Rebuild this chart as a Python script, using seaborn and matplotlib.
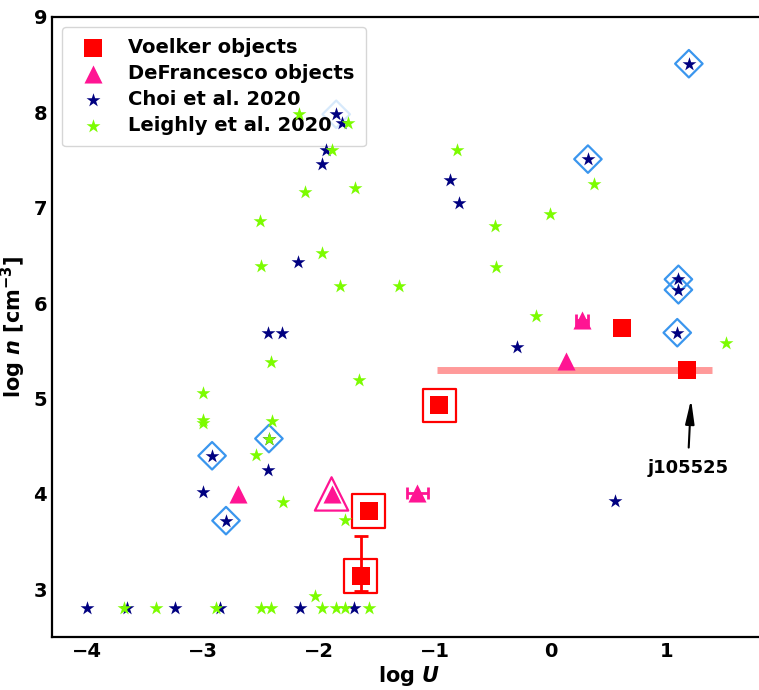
import matplotlib
matplotlib.use("Agg")
import matplotlib.pyplot as plt
import seaborn as sns
import pandas as pd

# --- data: log U (x) and log n (y) ---
choi_x = [-4.00, -3.65, -3.24, -2.85, -2.16, -1.70, -3.00, -2.92, -2.80, -2.44,
          -2.43, -2.44, -2.32, -2.18, -1.97, -1.94, -1.85, -1.80, -0.87, -0.79,
          -0.29, 0.55, 0.32, 1.19, 1.10, 1.10, 1.09]
choi_y = [2.80, 2.80, 2.80, 2.80, 2.80, 2.80, 4.02, 4.40, 3.72, 4.25,
          4.58, 5.69, 5.69, 6.43, 7.46, 7.61, 7.98, 7.89, 7.29, 7.05,
          5.54, 3.93, 7.51, 8.51, 6.25, 6.14, 5.69]
choi_flag = [False, False, False, False, False, False, False, True, True, False,
             True, False, False, False, False, False, True, False, False, False,
             False, False, True, True, True, True, True]

leighly_x = [-3.68, -3.40, -2.89, -2.50, -2.41, -2.03, -1.97, -1.85, -1.77, -1.57,
             -3.00, -3.00, -3.00, -2.40, -2.43, -2.54, -2.31, -1.77, -2.41, -2.50,
             -2.51, -2.12, -1.97, -1.82, -1.69, -2.17, -1.89, -1.75, -1.31, -1.65,
             -0.81, -0.48, -0.47, -0.13, -0.01, 0.37, 1.51]
leighly_y = [2.80, 2.80, 2.80, 2.80, 2.80, 2.93, 2.80, 2.80, 2.80, 2.80,
             5.06, 4.77, 4.74, 4.76, 4.58, 4.41, 3.92, 3.73, 5.38, 6.39,
             6.86, 7.16, 6.53, 6.18, 7.21, 7.98, 7.61, 7.89, 6.18, 5.19,
             7.61, 6.81, 6.38, 5.87, 6.93, 7.25, 5.58]

voelker_x = [-1.64, -1.57, -0.96, 0.61, 1.17]
voelker_y = [3.14, 3.82, 4.93, 5.74, 5.30]
voelker_flag = [True, True, True, False, False]

defr_x = [-2.70, -1.89, -1.15, 0.27, 0.13]
defr_y = [4.00, 4.00, 4.01, 5.82, 5.39]
defr_flag = [False, True, False, False, False]
defr_xerr = [0.0, 0.0, 0.09, 0.05, 0.0]

# asymmetric uncertainties
v_low_yerr = [0.16, 0.42]          # lower / upper for the lowest-density object
j105525_xerr = [2.15, 0.22]        # lower / upper in log U

choi = pd.DataFrame({"x": choi_x, "y": choi_y, "flag": choi_flag})
leighly = pd.DataFrame({"x": leighly_x, "y": leighly_y})
voelker = pd.DataFrame({"x": voelker_x, "y": voelker_y, "flag": voelker_flag})
defr = pd.DataFrame({"x": defr_x, "y": defr_y, "flag": defr_flag, "xerr": defr_xerr})

sns.set_style("white")
plt.rcParams["font.family"] = ["DejaVu Sans"]
plt.rcParams["font.weight"] = "bold"
plt.rcParams["axes.labelweight"] = "bold"
plt.rcParams["text.color"] = "black"
plt.rcParams["axes.labelcolor"] = "black"
plt.rcParams["axes.edgecolor"] = "black"
plt.rcParams["xtick.color"] = "black"
plt.rcParams["ytick.color"] = "black"
plt.rcParams["mathtext.fontset"] = "custom"
plt.rcParams["mathtext.rm"] = "DejaVu Sans:bold"
plt.rcParams["mathtext.it"] = "DejaVu Sans:italic:bold"
plt.rcParams["mathtext.bf"] = "DejaVu Sans:bold"

fig = plt.figure(figsize=(7.59, 6.9), dpi=100)
ax = fig.add_axes([0.0685, 0.0768, 0.9415, 0.8986])

# error bars
j = 4
ax.errorbar(voelker_x[j], voelker_y[j], xerr=[[j105525_xerr[0]], [j105525_xerr[1]]],
            fmt="none", ecolor="#ff9a9a", elinewidth=5, capsize=0, zorder=1)
ax.errorbar(voelker_x[0], voelker_y[0], yerr=[[v_low_yerr[0]], [v_low_yerr[1]]],
            fmt="none", ecolor="red", elinewidth=2, capsize=5, capthick=2, zorder=2)
for i in range(len(defr_x)):
    if defr_xerr[i] > 0:
        ax.errorbar(defr_x[i], defr_y[i], xerr=defr_xerr[i], fmt="none",
                    ecolor="deeppink", elinewidth=2, capsize=4, capthick=2, zorder=2)

# outline markers for the highlighted objects
sns.scatterplot(data=choi[choi["flag"]], x="x", y="y", marker="D", s=14**2,
                facecolor="none", edgecolor="#3a96ee", linewidth=1.6, ax=ax,
                zorder=3, legend=False)
sns.scatterplot(data=voelker[voelker["flag"]], x="x", y="y", marker="s", s=24**2,
                facecolor="none", edgecolor="red", linewidth=1.6, ax=ax,
                zorder=3, legend=False)
sns.scatterplot(data=defr[defr["flag"]], x="x", y="y", marker="^", s=24**2,
                facecolor="none", edgecolor="deeppink", linewidth=1.6, ax=ax,
                zorder=3, legend=False)

# filled markers
sns.scatterplot(data=voelker, x="x", y="y", marker="s", s=13**2, color="red",
                linewidth=0, ax=ax, zorder=4, label="Voelker objects")
sns.scatterplot(data=defr, x="x", y="y", marker="^", s=13**2, color="deeppink",
                linewidth=0, ax=ax, zorder=4, label="DeFrancesco objects")
sns.scatterplot(data=choi, x="x", y="y", marker="*", s=10.5**2, color="navy",
                linewidth=0, ax=ax, zorder=6, label="Choi et al. 2020")
sns.scatterplot(data=leighly, x="x", y="y", marker="*", s=10.5**2, color="lawngreen",
                linewidth=0, ax=ax, zorder=6, label="Leighly et al. 2020")

ax.annotate("j105525", xy=(1.21, 5.02), xytext=(1.18, 4.27),
            ha="center", va="center", fontsize=13, fontweight="bold",
            arrowprops=dict(arrowstyle="-|>,head_length=0.8,head_width=0.15",
                            color="black", lw=1.5, mutation_scale=18, shrinkA=6))

ax.set_xlim(-4.3, 1.86)
ax.set_ylim(2.5, 9.0)
ax.set_xticks([-4, -3, -2, -1, 0, 1])
ax.set_yticks([3, 4, 5, 6, 7, 8, 9])
ax.tick_params(direction="in", length=5, width=1.5, labelsize=14, colors="black")
for lbl in ax.get_xticklabels() + ax.get_yticklabels():
    lbl.set_fontweight("bold")
for sp in ax.spines.values():
    sp.set_linewidth(1.6)
    sp.set_color("black")
ax.set_xlabel(r"log $U$", fontsize=15, labelpad=2)
ax.set_ylabel(r"log $n$ [cm$^{-3}$]", fontsize=15, labelpad=4)

ax.legend(loc="upper left", prop={"weight": "bold", "size": 14},
          frameon=True, borderpad=0.6, labelspacing=0.35, handletextpad=0.8)

fig.savefig("out.png", dpi=100)
